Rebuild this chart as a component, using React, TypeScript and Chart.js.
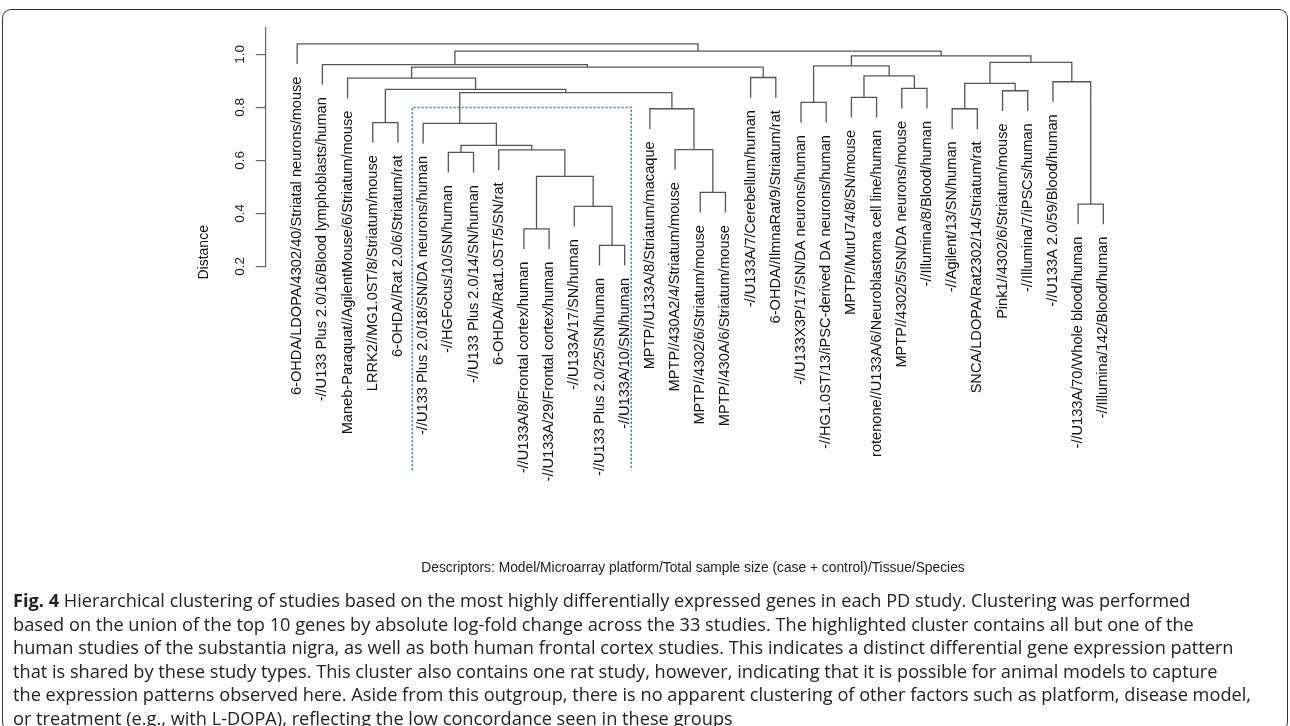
import React, { useEffect, useRef } from "react";
import { Chart, registerables } from "chart.js";

Chart.register(...registerables);

// Leaves in display order (left to right)
const leafLabels: string[] = [
  "6-OHDA/LDOPA/4302/40/Striatal neurons/mouse",
  "-//U133 Plus 2.0/16/Blood lymphoblasts/human",
  "Maneb-Paraquat//AgilentMouse/6/Striatum/mouse",
  "LRRK2//MG1.0ST/8/Striatum/mouse",
  "6-OHDA//Rat 2.0/6/Striatum/rat",
  "-//U133 Plus 2.0/18/SN/DA neurons/human",
  "-//HGFocus/10/SN/human",
  "-//U133 Plus 2.0/14/SN/human",
  "6-OHDA//Rat1.0ST/5/SN/rat",
  "-//U133A/8/Frontal cortex/human",
  "-//U133A/29/Frontal cortex/human",
  "-//U133A/17/SN/human",
  "-//U133 Plus 2.0/25/SN/human",
  "-//U133A/10/SN/human",
  "MPTP//U133A/8/Striatum/macaque",
  "MPTP//430A2/4/Striatum/mouse",
  "MPTP//4302/6/Striatum/mouse",
  "MPTP//430A/6/Striatum/mouse",
  "-//U133A/7/Cerebellum/human",
  "6-OHDA//IlmnaRat/9/Striatum/rat",
  "-//U133X3P/17/SN/DA neurons/human",
  "-//HG1.0ST/13/iPSC-derived DA neurons/human",
  "MPTP//MurU74/8/SN/mouse",
  "rotenone//U133A/6/Neuroblastoma cell line/human",
  "MPTP//4302/5/SN/DA neurons/mouse",
  "-//Illumina/8/Blood/human",
  "-//Agilent/13/SN/human",
  "SNCA/LDOPA/Rat2302/14/Striatum/rat",
  "Pink1//4302/6/Striatum/mouse",
  "-//Illumina/7/iPSCs/human",
  "-//U133A 2.0/59/Blood/human",
  "-//U133A/70/Whole blood/human",
  "-//Illumina/142/Blood/human",
];

// hclust-style merges: negative = leaf number, positive = earlier merge row
const mergeLeft: number[] = [
  -13, -10, -12, -32, -17, 2, -7, -9, -16, 7, -6, -4, -15, -27, -21, -23,
  11, -29, 12, -25, 14, -31, -3, -19, 16, 23, 15, -2, 21, 27, 28, -1,
];
const mergeRight: number[] = [
  -14, -11, 1, -33, -18, 3, -8, 6, 5, 8, 10, -5, 9, -28, -22, -24,
  13, -30, 17, -26, 18, 4, 19, -20, 20, 24, 25, 26, 22, 29, 30, 31,
];
const mergeHeight: number[] = [
  0.279, 0.341, 0.426, 0.435, 0.479, 0.54, 0.63, 0.64, 0.641, 0.657, 0.74,
  0.743, 0.795, 0.795, 0.819, 0.838, 0.856, 0.863, 0.868, 0.872, 0.891,
  0.897, 0.911, 0.913, 0.919, 0.952, 0.957, 0.962, 0.97, 0.995, 1.0125, 1.04,
];

const yTicks: number[] = [0.2, 0.4, 0.6, 0.8, 1.0];
const hang = 0.076;

// highlighted cluster (in leaf-position / distance units)
const clusterBoxLeft = 5.57;
const clusterBoxRight = 14.26;
const clusterBoxTop = 0.8;
const clusterBoxBottom = -0.57;

const yTitle = "Distance";
const descriptorText =
  "Descriptors: Model/Microarray platform/Total sample size (case + control)/Tissue/Species";

const captionLead = "Fig. 4";
const captionLines: string[] = [
  " Hierarchical clustering of studies based on the most highly differentially expressed genes in each PD study. Clustering was performed",
  "based on the union of the top 10 genes by absolute log-fold change across the 33 studies. The highlighted cluster contains all but one of the",
  "human studies of the substantia nigra, as well as both human frontal cortex studies. This indicates a distinct differential gene expression pattern",
  "that is shared by these study types. This cluster also contains one rat study, however, indicating that it is possible for animal models to capture",
  "the expression patterns observed here. Aside from this outgroup, there is no apparent clustering of other factors such as platform, disease model,",
  "or treatment (e.g., with L-DOPA), reflecting the low concordance seen in these groups",
];

export default function App() {
  const ref = useRef<HTMLCanvasElement | null>(null);

  useEffect(() => {
    document.body.style.margin = "0";
    const canvas = ref.current;
    if (!canvas) return;

    const nodeX: number[] = [];
    const leafBottom: number[] = new Array(leafLabels.length + 1).fill(0);
    const datasets: any[] = [];
    for (let i = 0; i < mergeHeight.length; i++) {
      const l = mergeLeft[i];
      const r = mergeRight[i];
      const h = mergeHeight[i];
      const xl = l < 0 ? -l : nodeX[l - 1];
      const xr = r < 0 ? -r : nodeX[r - 1];
      const yl = l < 0 ? h - hang : mergeHeight[l - 1];
      const yr = r < 0 ? h - hang : mergeHeight[r - 1];
      if (l < 0) leafBottom[-l] = h - hang;
      if (r < 0) leafBottom[-r] = h - hang;
      nodeX.push((xl + xr) / 2);
      datasets.push({
        data: [
          { x: xl, y: yl },
          { x: xl, y: h },
          { x: xr, y: h },
          { x: xr, y: yr },
        ],
        showLine: true,
        borderColor: "#555555",
        borderWidth: 1.3,
        pointRadius: 0,
        fill: false,
        tension: 0,
        clip: false,
      });
    }
    datasets.push({
      data: [
        { x: clusterBoxLeft, y: clusterBoxBottom },
        { x: clusterBoxLeft, y: clusterBoxTop },
        { x: clusterBoxRight, y: clusterBoxTop },
        { x: clusterBoxRight, y: clusterBoxBottom },
      ],
      showLine: true,
      borderColor: "#3f6fd6",
      borderWidth: 1.6,
      borderDash: [2, 2],
      pointRadius: 0,
      fill: false,
      tension: 0,
      clip: false,
    });

    const labelPlugin = {
      id: "dendroLabels",
      afterDraw(chart: any) {
        const ctx = chart.ctx;
        const xs = chart.scales.x;
        const ys = chart.scales.y;
        ctx.save();
        ctx.fillStyle = "#111";
        ctx.font = "14.6px 'Liberation Sans', Arial, sans-serif";
        ctx.textAlign = "right";
        ctx.textBaseline = "middle";
        for (let i = 1; i <= leafLabels.length; i++) {
          const px = xs.getPixelForValue(i);
          const py = ys.getPixelForValue(leafBottom[i]) + 12.5;
          ctx.save();
          ctx.translate(px, py);
          ctx.rotate(-Math.PI / 2);
          ctx.fillText(leafLabels[i - 1], 0, 0);
          ctx.restore();
        }
        // axis title
        ctx.save();
        ctx.font = "14px 'Liberation Sans', Arial, sans-serif";
        ctx.textAlign = "center";
        ctx.translate(chart.chartArea.left - 62, ys.getPixelForValue(0.2) - 14);
        ctx.rotate(-Math.PI / 2);
        ctx.fillText(yTitle, 0, 0);
        ctx.restore();
        // descriptor line
        ctx.font = "13.8px 'Liberation Sans', Arial, sans-serif";
        ctx.textAlign = "center";
        ctx.fillStyle = "#222";
        ctx.fillText(descriptorText, 693, 568);
        ctx.restore();
      },
    };

    const chart = new Chart(canvas, {
      type: "scatter",
      data: { datasets },
      options: {
        animation: false,
        responsive: false,
        events: [],
        layout: {
          autoPadding: false,
          padding: { top: 28, left: 205.7, right: 148.9, bottom: 459.7 },
        },
        plugins: {
          legend: { display: false },
          tooltip: { enabled: false },
        },
        scales: {
          x: {
            type: "linear",
            display: false,
            min: -0.25,
            max: 34.5,
          },
          y: {
            type: "linear",
            min: 0.2,
            max: 1.1,
            afterBuildTicks: (scale: any) => {
              scale.ticks = yTicks.map((v) => ({ value: v }));
            },
            afterFit: (scale: any) => {
              scale.width = 60;
            },
            border: { display: true, color: "#666", width: 1.2 },
            grid: {
              display: true,
              drawOnChartArea: false,
              drawTicks: true,
              tickLength: 10,
              color: "#666",
              tickColor: "#666",
              lineWidth: 1.2,
            },
            ticks: {
              minRotation: 90,
              maxRotation: 90,
              crossAlign: "center",
              padding: 6,
              color: "#222",
              font: { family: "'Liberation Sans', Arial, sans-serif", size: 13.5 },
              callback: (v: any) => Number(v).toFixed(1),
            },
          },
        },
      },
      plugins: [labelPlugin],
    } as any);

    return () => chart.destroy();
  }, []);

  return (
    <div style={{ position: "relative", width: 1290, height: 726, overflow: "hidden", background: "#fff" }}>
      <canvas ref={ref} width={1290} height={726} style={{ position: "absolute", left: 0, top: 0 }} />
      <div
        style={{
          position: "absolute",
          left: 2,
          top: 9,
          width: 1286,
          height: 722,
          border: "1.5px solid #333",
          borderRadius: 9,
          boxSizing: "border-box",
          pointerEvents: "none",
        }}
      />
      <div
        style={{
          position: "absolute",
          left: 13,
          top: 589,
          fontFamily: "'Open Sans', 'Noto Sans', sans-serif",
          fontSize: 18.2,
          lineHeight: "23.6px",
          color: "#222",
          whiteSpace: "pre",
        }}
      >
        {captionLines.map((line, i) => (
          <div key={i}>
            {i === 0 ? <b>{captionLead}</b> : null}
            {line}
          </div>
        ))}
      </div>
    </div>
  );
}
